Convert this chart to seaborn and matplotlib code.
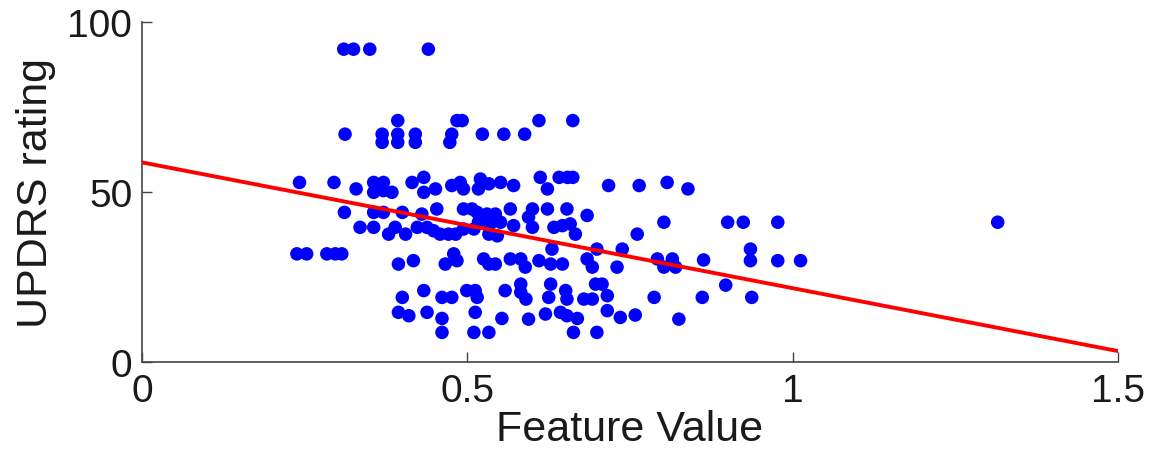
import matplotlib
matplotlib.use("Agg")
import matplotlib.pyplot as plt
import seaborn as sns
import numpy as np
import pandas as pd

# %% data
feature_value = [
    0.31, 0.325, 0.35, 0.44,
    0.312, 0.393, 0.369, 0.369, 0.393, 0.393, 0.42, 0.42, 0.484, 0.492, 0.476, 0.473, 0.523,
    0.556, 0.588, 0.61, 0.662,
    0.242, 0.295, 0.329, 0.356, 0.371, 0.356, 0.371, 0.384, 0.415, 0.433, 0.433, 0.451,
    0.476, 0.489, 0.494, 0.52, 0.517, 0.533, 0.551, 0.571, 0.612, 0.623, 0.641, 0.654, 0.662,
    0.717, 0.764, 0.807, 0.839,
    0.311, 0.356, 0.371, 0.40, 0.43, 0.453, 0.494, 0.507,
    0.515, 0.53, 0.543, 0.566, 0.6, 0.623, 0.653, 0.684,
    0.335, 0.356, 0.379, 0.389, 0.405, 0.423, 0.438, 0.448, 0.458, 0.471, 0.482, 0.494, 0.51,
    0.517, 0.535, 0.551, 0.571, 0.594, 0.6, 0.533, 0.546,
    0.633, 0.646, 0.658, 0.666, 0.761, 0.802,
    0.9, 0.924, 0.977, 1.315,
    0.238, 0.253, 0.284, 0.297, 0.307, 0.394, 0.417, 0.466, 0.479, 0.484,
    0.525, 0.533, 0.543, 0.566, 0.582, 0.589, 0.61, 0.628, 0.646, 0.63,
    0.684, 0.692, 0.73, 0.699, 0.738,
    0.792, 0.802, 0.815, 0.82, 0.863,
    0.935, 0.935, 0.977, 1.012,
    0.40, 0.433, 0.461, 0.476, 0.499,
    0.512, 0.515, 0.558, 0.582, 0.582, 0.59, 0.628, 0.625, 0.651, 0.653, 0.679,
    0.697, 0.707, 0.692, 0.715, 0.787, 0.861, 0.897, 0.937,
    0.394, 0.41, 0.438, 0.461, 0.512,
    0.553, 0.594, 0.62, 0.643, 0.653, 0.669, 0.715, 0.735, 0.758, 0.825,
    0.461, 0.51, 0.533, 0.663, 0.699,
]
updrs_rating = [
    92, 92, 92, 92,
    67, 71, 67, 64.6, 67, 64.6, 67, 64.6, 71, 71, 67, 64.6, 67,
    67, 67, 71, 71,
    52.8, 52.8, 50.9, 52.8, 52.8, 49.9, 50.4, 49.9, 52.8, 54.3, 49.9, 50.9,
    51.9, 52.8, 50.9, 53.8, 50.9, 52.4, 52.8, 51.9, 54.3, 50.9, 54.3, 54.3, 54.3,
    51.9, 51.9, 52.8, 50.9,
    44, 44, 44, 44, 43.5, 45, 45, 45,
    44, 43.5, 43.5, 45, 45, 45, 45, 43.1,
    39.6, 39.6, 37.6, 39.6, 37.6, 39.6, 39.6, 38.6, 37.6, 37.6, 37.6, 39.1, 39.1,
    41.1, 40.6, 41.1, 40.1, 42.6, 39.6, 37.6, 37.1,
    39.6, 40.1, 40.6, 37.6, 37.6, 41.1,
    41.1, 41.1, 41.1, 41.1,
    31.8, 31.8, 31.8, 31.8, 31.8, 28.8, 29.8, 28.8, 31.8, 29.8,
    30.3, 28.8, 28.8, 30.3, 30.3, 27.9, 29.8, 28.8, 28.8, 33.2,
    30.3, 27.9, 27.9, 33.2, 33.2,
    30.3, 27.9, 30.3, 27.9, 30.0,
    33.2, 29.8, 29.8, 29.8,
    19, 21, 19, 19, 21,
    21, 19, 21, 22.9, 20.5, 18.5, 22.9, 19, 21, 18.5, 18.5,
    22.9, 22.9, 18.5, 19.5, 19, 19, 22.6, 19,
    14.6, 13.6, 14.6, 12.8, 14.6,
    12.8, 12.6, 14.1, 14.6, 13.6, 12.8, 15.1, 13.1, 13.8, 12.6,
    8.7, 8.7, 8.7, 8.7, 8.7,
]
# fitted line as drawn in the figure
line_intercept = 58.7
line_slope = -37.0
line_x = [0, 1.5]

df = pd.DataFrame({'feature': feature_value, 'updrs': updrs_rating})
df_line = pd.DataFrame({'feature': line_x,
                        'updrs': [line_intercept + line_slope * v for v in line_x]})

# %% plot
sns.set_style('white')
plt.rcParams['font.family'] = ['Liberation Sans', 'DejaVu Sans']

fig = plt.figure(figsize=(11.51, 4.56), dpi=100)
ax = fig.add_axes([0.1234, 0.204, 0.848, 0.7456])

sns.scatterplot(data=df, x='feature', y='updrs', color='#0000ff', s=95,
                edgecolor='none', linewidth=0, ax=ax, zorder=2)
sns.lineplot(data=df_line, x='feature', y='updrs', color='#ff0000', linewidth=2.8,
             ax=ax, zorder=3)

ax.set_xlim(0, 1.5)
ax.set_ylim(0, 100)
ax.set_xticks([0, 0.5, 1, 1.5])
ax.set_xticklabels(['0', '0.5', '1', '1.5'])
ax.set_yticks([0, 50, 100])
ax.set_yticklabels(['0', '50', '100'])
ax.tick_params(bottom=True, left=True, direction='in', length=7, width=1,
               labelsize=28, color='#444444', labelcolor='#1a1a1a')
ax.tick_params(axis='x', pad=8)
ax.tick_params(axis='y', pad=7)
for side in ['top', 'right']:
    ax.spines[side].set_visible(False)
for side in ['left', 'bottom']:
    ax.spines[side].set_color('#444444')
    ax.spines[side].set_linewidth(1.2)
ax.set_xlabel('Feature Value', fontsize=31, color='#1a1a1a', labelpad=0)
ax.set_ylabel('UPDRS rating', fontsize=31, color='#1a1a1a', labelpad=8)

plt.savefig('out.png', dpi=100)
plt.close('all')
